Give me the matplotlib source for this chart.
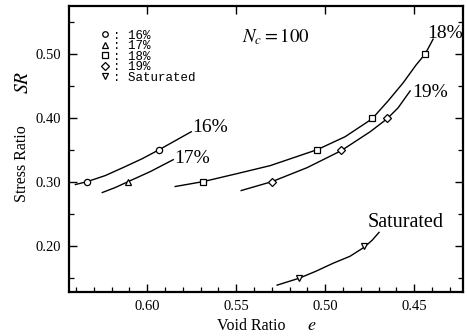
import matplotlib
matplotlib.use('Agg')
import matplotlib.pyplot as plt
from matplotlib.lines import Line2D
from matplotlib.ticker import MultipleLocator

plt.rcParams['font.family'] = 'Liberation Serif'
plt.rcParams['mathtext.fontset'] = 'stix'

# measured points (void ratio e, stress ratio SR)
e16 = [0.6337, 0.5933]
sr16 = [0.300, 0.350]
e17 = [0.6107]
sr17 = [0.300]
e18 = [0.5685, 0.5045, 0.4736, 0.4438]
sr18 = [0.300, 0.350, 0.400, 0.500]
e19 = [0.5298, 0.4910, 0.4652]
sr19 = [0.300, 0.350, 0.400]
e_sat = [0.5146, 0.4781]
sr_sat = [0.150, 0.200]

# fitted curves
c16_e = [0.6404, 0.6337, 0.6236, 0.6124, 0.6028, 0.5933, 0.5843, 0.5753]
c16_sr = [0.2963, 0.3009, 0.3103, 0.3243, 0.3367, 0.3507, 0.3647, 0.3787]
c17_e = [0.6253, 0.6180, 0.6107, 0.5983, 0.5854]
c17_sr = [0.2838, 0.2916, 0.3009, 0.3165, 0.3351]
c18_e = [0.5843, 0.5685, 0.5494, 0.5309, 0.5045, 0.4888, 0.4736, 0.4646,
         0.4562, 0.4489, 0.4438, 0.4393]
c18_sr = [0.2932, 0.3009, 0.3134, 0.3258, 0.3507, 0.3709, 0.3989, 0.4269,
          0.4549, 0.4829, 0.5000, 0.5233]
c19_e = [0.5472, 0.5298, 0.5101, 0.4910, 0.4747, 0.4652, 0.4590, 0.4522]
c19_sr = [0.2869, 0.3009, 0.3227, 0.3491, 0.3787, 0.3989, 0.4160, 0.4425]
csat_e = [0.5270, 0.5146, 0.5051, 0.4955, 0.4860, 0.4781, 0.4736, 0.4697]
csat_sr = [0.1392, 0.1500, 0.1610, 0.1734, 0.1843, 0.1983, 0.2092, 0.2216]

fig = plt.figure(figsize=(4.67, 3.36), dpi=100)
ax = fig.add_axes([0.1478, 0.131, 0.8436, 0.851])

curve_kw = dict(color='black', lw=1.0, zorder=2)
mk_kw = dict(ls='none', mfc='white', mec='black', mew=0.9, ms=4.5, zorder=3)

ax.plot(c16_e, c16_sr, **curve_kw)
ax.plot(c17_e, c17_sr, **curve_kw)
ax.plot(c18_e, c18_sr, **curve_kw)
ax.plot(c19_e, c19_sr, **curve_kw)
ax.plot(csat_e, csat_sr, **curve_kw)
ax.plot(e16, sr16, marker='o', **mk_kw)
ax.plot(e17, sr17, marker='^', **mk_kw)
ax.plot(e18, sr18, marker='s', **mk_kw)
ax.plot(e19, sr19, marker='D', **dict(mk_kw, ms=4))
ax.plot(e_sat, sr_sat, marker='v', **mk_kw)

# curve labels
lab_kw = dict(fontsize=14, ha='left', va='center')
ax.text(0.5747, 0.385, '16%', **lab_kw)
ax.text(0.5850, 0.337, '17%', **lab_kw)
ax.text(0.4427, 0.532, '18%', **lab_kw)
ax.text(0.4510, 0.440, '19%', **lab_kw)
ax.text(0.4760, 0.237, 'Saturated', fontsize=14.5, ha='left', va='center')
ax.text(0.5466, 0.527, r'$N_c=\mathrm{100}$', fontsize=13.5, ha='left',
        va='center')

ax.set_xlim(0.644, 0.4225)
ax.set_ylim(0.1285, 0.575)
ax.xaxis.set_major_locator(MultipleLocator(0.05))
ax.xaxis.set_minor_locator(MultipleLocator(0.01))
ax.yaxis.set_major_locator(MultipleLocator(0.10))
ax.yaxis.set_minor_locator(MultipleLocator(0.05))
ax.xaxis.set_major_formatter(plt.FuncFormatter(lambda v, p: '%.2f' % v))
ax.yaxis.set_major_formatter(plt.FuncFormatter(lambda v, p: '%.2f' % v))
ax.tick_params(which='both', direction='in', top=True, right=True,
               labelsize=10.5, pad=6)
ax.tick_params(which='major', length=6, width=1.0)
ax.tick_params(which='minor', length=3.5, width=0.9)
ax.tick_params(axis='x', which='minor', top=False)
for s in ax.spines.values():
    s.set_linewidth(1.6)

# legend
handles = [Line2D([], [], marker=m, ls='none', mfc='white', mec='black',
                  mew=0.9, ms=4) for m in ['o', '^', 's', 'D', 'v']]
labels = [': 16%', ': 17%', ': 18%', ': 19%', ': Saturated']
ax.legend(handles, labels, loc='upper left', bbox_to_anchor=(0.07, 0.935),
          frameon=False, prop={'family': 'Liberation Mono', 'size': 9},
          handlelength=0.6, handletextpad=0.3, labelspacing=-0.12,
          borderaxespad=0)

# axis labels
fig.text(0.047, 0.514, 'Stress Ratio', rotation=90, fontsize=11.5,
         ha='center', va='center')
fig.text(0.050, 0.756, r'$SR$', rotation=90, fontsize=14,
         ha='center', va='center')
fig.text(0.537, 0.030, 'Void Ratio', fontsize=11.5, ha='center', va='center')
fig.text(0.668, 0.030, r'$e$', fontsize=13, ha='center', va='center')

fig.savefig('out.png', dpi=100)
